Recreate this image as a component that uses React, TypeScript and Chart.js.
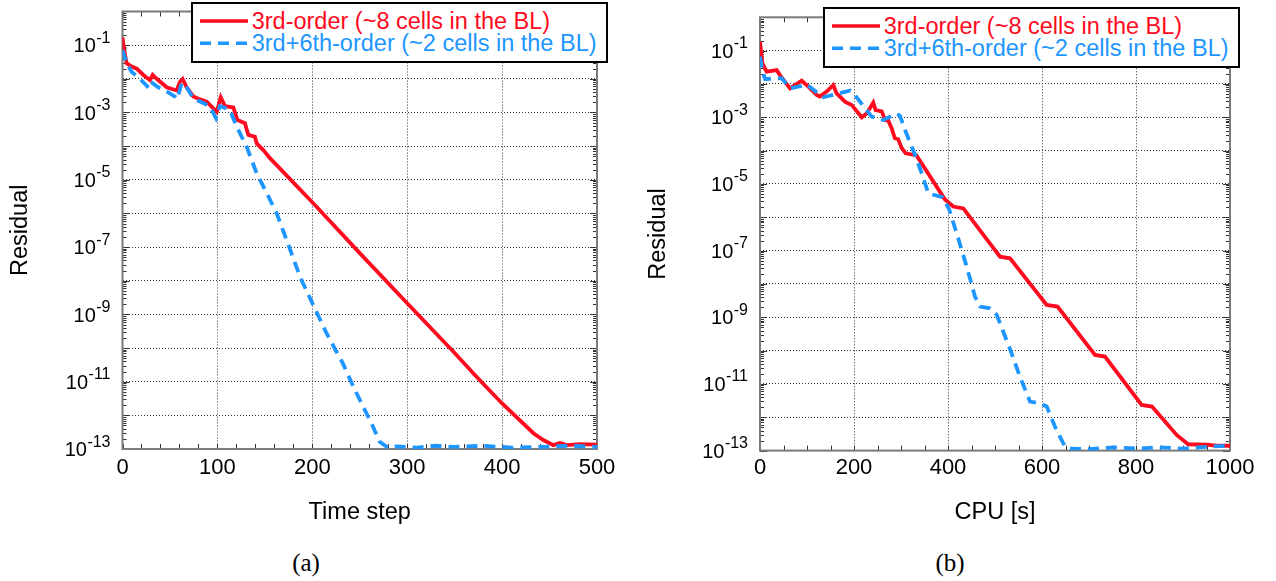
import React, { useEffect, useRef } from 'react';
import { Chart, registerables } from 'chart.js';

Chart.register(...registerables);

const FONT = '"Liberation Sans", Arial, Helvetica, sans-serif';
const SERIF = '"Liberation Serif", "Times New Roman", serif';
const RED = '#ff0a1e';
const BLUE = '#1e96ff';

const SERIES_LABELS = ['3rd-order (~8 cells in the BL)', '3rd+6th-order (~2 cells in the BL)'];
const Y_TITLE = 'Residual';
const X_TITLE_A = 'Time step';
const X_TITLE_B = 'CPU [s]';
const CAPTIONS = ['(a)', '(b)'];

// y axis: decades for grid lines, odd exponents are labelled
const Y_DECADES = [0, -1, -2, -3, -4, -5, -6, -7, -8, -9, -10, -11, -12, -13];
const Y_LABEL_EXPONENTS = [-1, -3, -5, -7, -9, -11, -13];

// x axis tick labels
const X_LABELS_A = [0, 100, 200, 300, 400, 500];
const X_LABELS_B = [0, 200, 400, 600, 800, 1000];

// (a) residual vs time step, 3rd-order
const STEP_3RD = [0, 2, 4.4, 9.7, 15, 22, 29, 31.8, 36, 46.6, 57, 60.6, 63.4, 67.6, 74.6, 81.7, 88.7, 99.3, 103.5, 108, 116.8, 121, 129, 132.6, 139.6, 141.4, 148.4, 155.4, 201, 250, 300, 350, 373, 400, 433, 443.4, 454, 461, 468, 482, 500];
const RES_3RD_STEP = [1.7e-1, 6.3e-2, 2.9e-2, 2.3e-2, 2.0e-2, 1.3e-2, 9.1e-3, 1.3e-2, 1.0e-2, 5.6e-3, 4.5e-3, 8.1e-3, 9.8e-3, 5.6e-3, 3.0e-3, 2.45e-3, 2.1e-3, 1.05e-3, 2.8e-3, 1.55e-3, 1.4e-3, 6.0e-4, 4.8e-4, 2.15e-4, 1.9e-4, 1.2e-4, 7.6e-5, 4.4e-5, 2.0e-6, 6.6e-8, 2.15e-9, 7.1e-11, 1.4e-11, 2.25e-12, 2.95e-13, 1.85e-13, 1.3e-13, 1.5e-13, 1.3e-13, 1.4e-13, 1.35e-13];

// (a) residual vs time step, 3rd+6th-order
const STEP_36TH = [0, 4.4, 9.7, 18.4, 25.5, 29, 31.8, 37.7, 46.6, 55.3, 57.7, 62.4, 67.6, 74.6, 85, 92.2, 98.5, 102.7, 113, 120.3, 130.9, 141.4, 152, 162.5, 173, 187.1, 199, 215, 232.2, 245, 262.3, 271, 279.6, 290, 310, 330, 350, 380, 410, 440, 470, 500];
const RES_36TH_STEP = [7.2e-2, 2.9e-2, 1.6e-2, 1.0e-2, 6.2e-3, 4.9e-3, 7.4e-3, 5.6e-3, 4.2e-3, 2.95e-3, 2.5e-3, 7.6e-3, 5.6e-3, 2.6e-3, 1.9e-3, 1.5e-3, 6.8e-4, 1.55e-3, 1.2e-3, 3.8e-4, 9.5e-5, 1.55e-5, 4.0e-6, 1.0e-6, 1.6e-7, 1.3e-8, 2.5e-9, 2.75e-10, 3.5e-11, 5.6e-12, 5.8e-13, 1.65e-13, 1.1e-13, 1.2e-13, 1.1e-13, 1.25e-13, 1.15e-13, 1.25e-13, 1.1e-13, 1.15e-13, 1.25e-13, 1.15e-13];

// (b) residual vs CPU time, 3rd-order
const CPU_3RD = [0, 5, 14, 35.5, 42.5, 64, 88.7, 102.8, 120.6, 127, 141.8, 156, 163, 180.8, 195, 216.4, 227, 241, 246, 259, 266, 273, 280, 287, 294, 301.5, 310, 333, 393, 411, 432.6, 510.6, 532, 610, 633, 712.8, 734, 812, 834, 886.5, 911, 950, 972, 1000];
const RES_3RD_CPU = [1.85e-1, 4.2e-2, 2.35e-2, 2.6e-2, 1.85e-2, 7.4e-3, 1.25e-2, 8.3e-3, 4.7e-3, 4.2e-3, 5.9e-3, 9.3e-3, 5.2e-3, 2.95e-3, 2.35e-3, 1.0e-3, 1.3e-3, 2.75e-3, 1.65e-3, 1.5e-3, 8.3e-4, 7.9e-4, 4.7e-4, 2.35e-4, 2.2e-4, 1.2e-4, 8.3e-5, 7.2e-5, 3.5e-6, 2.1e-6, 1.85e-6, 6.6e-8, 5.9e-8, 2.35e-9, 2.1e-9, 7.4e-11, 6.6e-11, 2.35e-12, 2.1e-12, 2.95e-13, 1.55e-13, 1.5e-13, 1.4e-13, 1.4e-13];

// (b) residual vs CPU time, 3rd+6th-order
const CPU_36TH = [0, 5, 10.6, 46, 64, 100, 134.7, 191.5, 200, 237.6, 262, 290.8, 298, 308.5, 329.8, 344, 358, 388, 402, 418.5, 439.8, 457.4, 468, 489, 503.5, 532, 553, 574.5, 595.7, 610, 627.7, 648.9, 659.6, 700, 754, 800, 850, 900, 950, 1000];
const RES_36TH_CPU = [6.6e-2, 2.6e-2, 1.4e-2, 1.5e-2, 7.4e-3, 9.5e-3, 4.0e-3, 6.3e-3, 5.0e-3, 1.05e-3, 8.3e-4, 1.3e-3, 1.1e-3, 4.2e-4, 7.4e-5, 2.1e-5, 5.2e-6, 4.0e-6, 1.8e-6, 3.3e-7, 3.3e-8, 4.2e-9, 2.1e-9, 1.85e-9, 1.2e-9, 1.1e-10, 1.65e-11, 2.95e-12, 2.6e-12, 2.1e-12, 5.2e-13, 1.3e-13, 1.15e-13, 1.1e-13, 1.25e-13, 1.15e-13, 1.25e-13, 1.15e-13, 1.3e-13, 1.4e-13];

const CANVAS_W = 638;
const CANVAS_H = 540;

type PanelSpec = {
  xRed: number[];
  yRed: number[];
  xBlue: number[];
  yBlue: number[];
  xMax: number;
  minorStep: number;
  gridStep: number;
  xLabels: number[];
  xTitle: string;
  area: { left: number; right: number; top: number; bottom: number };
  tickPad: number;
};

const decadeValue = (e: number) => Number('1e' + e);

function Panel({ spec, left }: { spec: PanelSpec; left: number }) {
  const ref = useRef<HTMLCanvasElement>(null);

  useEffect(() => {
    const canvas = ref.current;
    if (!canvas) return;
    const { area } = spec;
    const minorXs: number[] = [];
    for (let v = 0; v <= spec.xMax + 1e-9; v += spec.minorStep) minorXs.push(v);

    const framePlugin = {
      id: 'frameTicks',
      beforeDatasetsDraw(chart: any) {
        const { ctx, chartArea: a, scales } = chart;
        const xs = scales.x;
        const ys = scales.y;
        ctx.save();
        ctx.strokeStyle = '#333';
        ctx.lineWidth = 1;
        ctx.beginPath();
        for (const v of minorXs) {
          const px = Math.round(xs.getPixelForValue(v)) + 0.5;
          ctx.moveTo(px, a.bottom);
          ctx.lineTo(px, a.bottom - 5);
          ctx.moveTo(px, a.top);
          ctx.lineTo(px, a.top + 5);
        }
        for (const e of Y_DECADES) {
          if (e === 0) continue;
          for (let k = 1; k <= 9; k++) {
            const py = Math.round(ys.getPixelForValue(k * decadeValue(e))) + 0.5;
            const len = k === 1 ? 7 : 4;
            ctx.moveTo(a.left, py);
            ctx.lineTo(a.left + len, py);
            ctx.moveTo(a.right, py);
            ctx.lineTo(a.right - len, py);
          }
        }
        ctx.stroke();
        ctx.strokeStyle = '#7a7a7a';
        ctx.lineWidth = 2;
        ctx.strokeRect(a.left, a.top, a.right - a.left, a.bottom - a.top);
        ctx.restore();
      },
      afterDraw(chart: any) {
        const { ctx, chartArea: a, scales } = chart;
        const ys = scales.y;
        ctx.save();
        ctx.fillStyle = '#000';
        ctx.textBaseline = 'alphabetic';
        for (const e of Y_LABEL_EXPONENTS) {
          const py = ys.getPixelForValue(decadeValue(e));
          const exp = String(e);
          ctx.font = `16px ${FONT}`;
          const ew = ctx.measureText(exp).width;
          const right = a.left - 12;
          ctx.textAlign = 'left';
          ctx.fillText(exp, right - ew, py - 2.5);
          ctx.font = `20px ${FONT}`;
          ctx.textAlign = 'right';
          ctx.fillText('10', right - ew - 0.5, py + 7.2);
        }
        ctx.restore();
      },
    };

    const chart = new Chart(canvas, {
      type: 'line',
      data: {
        datasets: [
          {
            label: SERIES_LABELS[0],
            data: spec.xRed.map((x, i) => ({ x, y: spec.yRed[i] })),
            borderColor: RED,
            backgroundColor: RED,
            borderWidth: 3.8,
            pointRadius: 0,
            fill: false,
            tension: 0,
            order: 2,
          },
          {
            label: SERIES_LABELS[1],
            data: spec.xBlue.map((x, i) => ({ x, y: spec.yBlue[i] })),
            borderColor: BLUE,
            backgroundColor: BLUE,
            borderWidth: 3.8,
            borderDash: [11, 7],
            pointRadius: 0,
            fill: false,
            tension: 0,
            order: 1,
          },
        ],
      },
      options: {
        responsive: false,
        animation: false,
        devicePixelRatio: 1,
        layout: {
          padding: { left: 0, top: area.top, right: CANVAS_W - area.right, bottom: 0 },
        },
        plugins: {
          legend: { display: false },
          tooltip: { enabled: false },
        },
        scales: {
          x: {
            type: 'linear',
            min: 0,
            max: spec.xMax,
            afterBuildTicks: (s: any) => {
              s.ticks = minorXs.map((v) => ({ value: v }));
            },
            afterFit: (s: any) => {
              s.height = CANVAS_H - area.bottom;
            },
            ticks: {
              autoSkip: false,
              maxRotation: 0,
              minRotation: 0,
              padding: spec.tickPad,
              color: '#000',
              font: { family: FONT, size: 22 },
              callback: (value: any) => (spec.xLabels.includes(Number(value)) ? String(value) : ''),
            },
            grid: {
              drawTicks: false,
              lineWidth: 1,
              color: (c: any) =>
                c.tick && Math.abs(c.tick.value % spec.gridStep) < 1e-9 ? '#333' : 'rgba(0,0,0,0)',
            },
            border: { display: false, dash: [1, 2] },
            title: {
              display: true,
              text: spec.xTitle,
              color: '#000',
              font: { family: FONT, size: 23.5 },
              padding: { top: 0, bottom: 12.9 },
            },
          },
          y: {
            type: 'logarithmic',
            min: 1e-13,
            max: 1,
            afterBuildTicks: (s: any) => {
              s.ticks = Y_DECADES.map((e) => ({ value: decadeValue(e) }));
            },
            afterFit: (s: any) => {
              s.width = area.left;
            },
            ticks: { display: false },
            grid: { drawTicks: false, lineWidth: 1, color: '#333' },
            border: { display: false, dash: [1, 2] },
            title: {
              display: true,
              text: Y_TITLE,
              color: '#000',
              font: { family: FONT, size: 23.5 },
              padding: { top: 6, bottom: 0 },
            },
          },
        },
      },
      plugins: [framePlugin],
    } as any);
    return () => chart.destroy();
  }, [spec]);

  return (
    <canvas
      ref={ref}
      width={CANVAS_W}
      height={CANVAS_H}
      style={{ position: 'absolute', left, top: 0, width: CANVAS_W, height: CANVAS_H }}
    />
  );
}

function Legend({ left, top }: { left: number; top: number }) {
  const rows = [
    { label: SERIES_LABELS[0], color: RED, dash: undefined as string | undefined, cy: 19 },
    { label: SERIES_LABELS[1], color: BLUE, dash: '11 7', cy: 41.3 },
  ];
  return (
    <div
      style={{
        position: 'absolute',
        left,
        top,
        width: 417,
        height: 61,
        boxSizing: 'border-box',
        border: '2px solid #000',
        background: '#fff',
      }}
    >
      <svg width={60} height={61} style={{ position: 'absolute', left: -2, top: -2 }}>
        {rows.map((r, i) => (
          <line
            key={i}
            x1={9}
            x2={57}
            y1={r.cy}
            y2={r.cy}
            stroke={r.color}
            strokeWidth={3.5}
            strokeDasharray={r.dash}
          />
        ))}
      </svg>
      {rows.map((r, i) => (
        <div
          key={i}
          style={{
            position: 'absolute',
            left: 60.7 - 2,
            top: r.cy - 2 - 14,
            height: 28,
            lineHeight: '28px',
            fontFamily: FONT,
            fontSize: 23.5,
            color: r.color,
            whiteSpace: 'nowrap',
          }}
        >
          {r.label}
        </div>
      ))}
    </div>
  );
}

const SPEC_A: PanelSpec = {
  xRed: STEP_3RD,
  yRed: RES_3RD_STEP,
  xBlue: STEP_36TH,
  yBlue: RES_36TH_STEP,
  xMax: 500,
  minorStep: 20,
  gridStep: 100,
  xLabels: X_LABELS_A,
  xTitle: X_TITLE_A,
  area: { left: 122.5, right: 597, top: 11.5, bottom: 449 },
  tickPad: 5.5,
};

const SPEC_B: PanelSpec = {
  xRed: CPU_3RD,
  yRed: RES_3RD_CPU,
  xBlue: CPU_36TH,
  yBlue: RES_36TH_CPU,
  xMax: 1000,
  minorStep: 50,
  gridStep: 200,
  xLabels: X_LABELS_B,
  xTitle: X_TITLE_B,
  area: { left: 122, right: 592, top: 17.3, bottom: 450.6 },
  tickPad: 3.7,
};

export default function App() {
  return (
    <div
      style={{
        position: 'fixed',
        left: 0,
        top: 0,
        width: 1276,
        height: 581,
        background: '#fff',
        overflow: 'hidden',
      }}
    >
      <Panel spec={SPEC_A} left={0} />
      <Panel spec={SPEC_B} left={638} />
      <Legend left={191} top={2} />
      <Legend left={823} top={7} />
      {[306, 950].map((cx, i) => (
        <div
          key={i}
          style={{
            position: 'absolute',
            left: cx - 40,
            width: 80,
            top: 563 - 15,
            height: 30,
            lineHeight: '30px',
            textAlign: 'center',
            fontFamily: SERIF,
            fontSize: 25,
            color: '#000',
          }}
        >
          {CAPTIONS[i]}
        </div>
      ))}
    </div>
  );
}
